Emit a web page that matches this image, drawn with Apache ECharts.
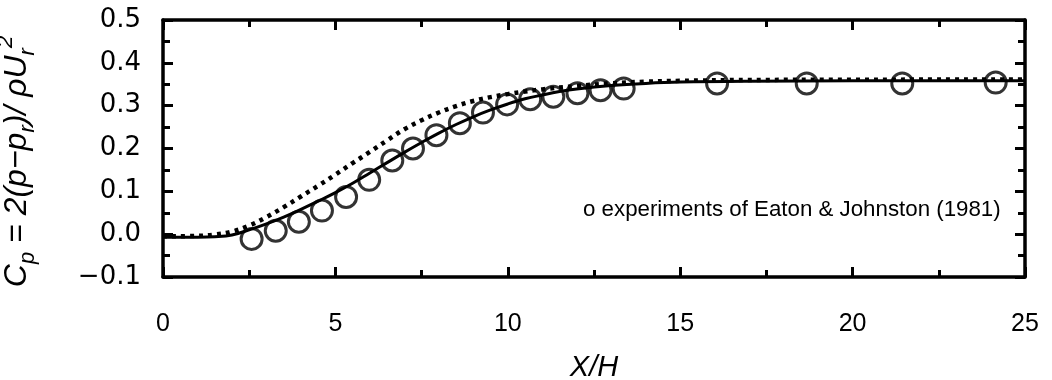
<!DOCTYPE html>
<html>
<head>
<meta charset="utf-8">
<script src="https://cdn.jsdelivr.net/npm/echarts@6/dist/echarts.min.js"></script>
<style>html,body{margin:0;padding:0;background:#fff}#c{width:1052px;height:380px}</style>
</head>
<body>
<div id="c"></div>
<script>
// Solid line (model prediction)
const solidX = [0, 1, 1.5, 2, 2.5, 3, 3.5, 4, 4.5, 5, 5.5, 6, 6.5, 7, 7.5, 8, 8.5, 9, 9.5, 10, 10.5, 11, 11.5, 12, 13, 14, 15, 17, 20, 25];
const solidY = [-0.007, -0.007, -0.006, -0.002, 0.010, 0.024, 0.040, 0.058, 0.077, 0.097, 0.119, 0.143, 0.167, 0.191, 0.214, 0.236, 0.256, 0.274, 0.290, 0.304, 0.316, 0.325, 0.333, 0.339, 0.347, 0.352, 0.355, 0.357, 0.358, 0.358];
// Dotted line (second prediction)
const dotX = [0, 1, 1.5, 2, 2.5, 3, 3.5, 4, 4.5, 5, 5.5, 6, 6.5, 7, 7.5, 8, 8.5, 9, 9.5, 10, 10.5, 11, 12, 13, 14, 15, 17, 25];
const dotY = [-0.005, -0.004, -0.001, 0.006, 0.020, 0.040, 0.063, 0.088, 0.113, 0.139, 0.166, 0.192, 0.219, 0.245, 0.266, 0.284, 0.299, 0.311, 0.320, 0.327, 0.333, 0.338, 0.346, 0.352, 0.356, 0.358, 0.360, 0.361];
// Experiments of Eaton & Johnston (1981)
const expX = [2.57, 3.27, 3.94, 4.61, 5.31, 5.98, 6.65, 7.25, 7.93, 8.61, 9.28, 9.98, 10.65, 11.32, 12.02, 12.69, 13.36, 16.07, 18.67, 21.44, 24.15];
const expY = [-0.011, 0.008, 0.029, 0.055, 0.087, 0.127, 0.172, 0.200, 0.231, 0.259, 0.284, 0.303, 0.315, 0.321, 0.329, 0.336, 0.340, 0.352, 0.352, 0.352, 0.354];
const xTicks = [0, 5, 10, 15, 20, 25];
const yTicks = [-0.1, 0.0, 0.1, 0.2, 0.3, 0.4, 0.5];
const noteText = 'o experiments of Eaton & Johnston (1981)';

const zip = (a, b) => a.map((v, i) => [v, b[i]]);
const chart = echarts.init(document.getElementById('c'), null, {renderer: 'canvas'});
const axisLine = {show: true, onZero: false, lineStyle: {color: '#000', width: 3.5}};
const tickStyle = {show: true, inside: true, length: 10, lineStyle: {color: '#000', width: 3}};
const minorStyle = {show: true, splitNumber: 2, length: 7, lineStyle: {color: '#000', width: 3}};
const baseX = {type: 'value', min: xTicks[0], max: xTicks[xTicks.length - 1], interval: 5,
  axisLine, axisTick: tickStyle, minorTick: minorStyle, splitLine: {show: false}};
const baseY = {type: 'value', min: yTicks[0], max: yTicks[yTicks.length - 1], interval: 0.1,
  axisLine, axisTick: tickStyle, minorTick: minorStyle, splitLine: {show: false}};

chart.setOption({
  animation: false,
  backgroundColor: '#fff',
  grid: {left: 163, right: 27, top: 20, bottom: 103, containLabel: false, outerBoundsMode: 'none'},
  xAxis: [
    Object.assign({}, baseX, {
      position: 'bottom',
      axisLabel: {margin: 35, color: '#000', fontFamily: 'Liberation Sans', fontSize: 25,
        formatter: v => String(v)},
      name: 'X/H', nameLocation: 'middle', nameGap: 76,
      nameTextStyle: {color: '#000', fontFamily: 'Liberation Sans', fontStyle: 'italic', fontSize: 29}
    }),
    Object.assign({}, baseX, {position: 'top', axisLabel: {show: false}})
  ],
  yAxis: [
    Object.assign({}, baseY, {
      position: 'left',
      axisLabel: {margin: 22, color: '#000', fontFamily: 'DejaVu Sans', fontSize: 26,
        formatter: v => (v < 0 ? '\u2212' : '') + Math.abs(v).toFixed(1)},
      name: '{a|C}{s|p}{a| = 2(p\u2212p}{s|r}{a|)/ \u03c1U}{s|r}{t|2}',
      nameLocation: 'middle', nameGap: 124, nameRotate: 90,
      nameTextStyle: {
        color: '#000',
        padding: [0, 26, 0, 0],
        rich: {
          a: {fontFamily: 'Liberation Sans', fontStyle: 'italic', fontSize: 32, lineHeight: 44, color: '#000'},
          s: {fontFamily: 'Liberation Sans', fontStyle: 'italic', fontSize: 22, lineHeight: 22, verticalAlign: 'bottom', color: '#000'},
          t: {fontFamily: 'Liberation Sans', fontStyle: 'italic', fontSize: 22, lineHeight: 22, verticalAlign: 'top', color: '#000'}
        }
      }
    }),
    Object.assign({}, baseY, {position: 'right', axisLabel: {show: false}})
  ],
  graphic: [{
    type: 'text', left: 583, top: 199,
    style: {text: noteText, fill: '#000', font: '22.3px "Liberation Sans"'}
  }],
  series: [
    {type: 'line', data: zip(solidX, solidY), smooth: 0.4, showSymbol: false,
      lineStyle: {color: '#000', width: 3}},
    {type: 'line', data: zip(dotX, dotY), smooth: 0.4, showSymbol: false,
      lineStyle: {color: '#000', width: 4.5, type: [4, 5]}},
    {type: 'scatter', data: zip(expX, expY), symbol: 'circle', symbolSize: 21,
      itemStyle: {color: 'rgba(0,0,0,0)', borderColor: '#000', borderWidth: 3}}
  ]
});
</script>
</body>
</html>
